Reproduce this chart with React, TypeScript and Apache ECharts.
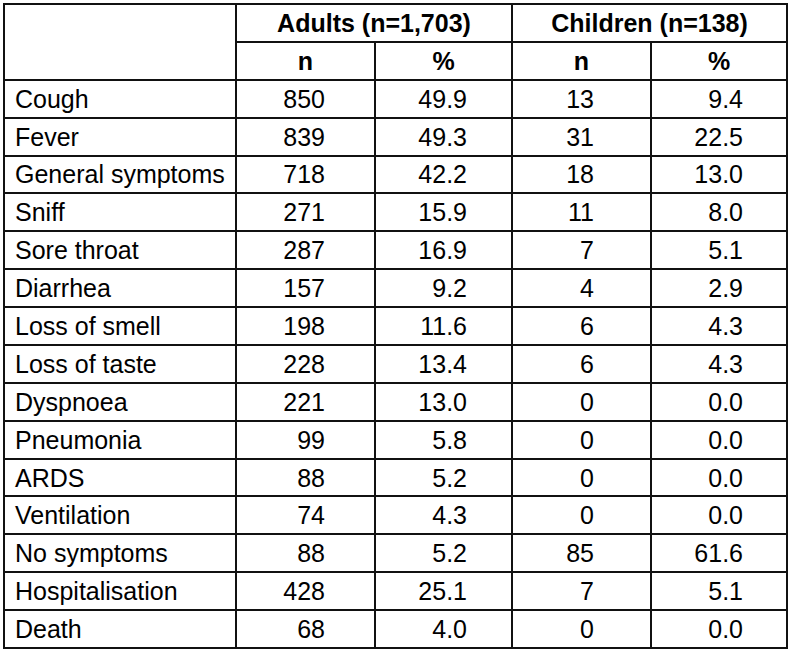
import React, { useEffect, useRef } from "react";
import * as echarts from "echarts";

// ---- data ----
const rowLabels = [
  "Cough", "Fever", "General symptoms", "Sniff", "Sore throat", "Diarrhea",
  "Loss of smell", "Loss of taste", "Dyspnoea", "Pneumonia", "ARDS",
  "Ventilation", "No symptoms", "Hospitalisation", "Death",
];
const adultsN = [850, 839, 718, 271, 287, 157, 198, 228, 221, 99, 88, 74, 88, 428, 68];
const adultsPct = [49.9, 49.3, 42.2, 15.9, 16.9, 9.2, 11.6, 13.4, 13.0, 5.8, 5.2, 4.3, 5.2, 25.1, 4.0];
const childrenN = [13, 31, 18, 11, 7, 4, 6, 6, 0, 0, 0, 0, 85, 7, 0];
const childrenPct = [9.4, 22.5, 13.0, 8.0, 5.1, 2.9, 4.3, 4.3, 0.0, 0.0, 0.0, 0.0, 61.6, 5.1, 0.0];
const groupHeaders = ["Adults (n=1,703)", "Children (n=138)"];
const subHeaders = ["n", "%", "n", "%"];

// ---- layout (axis units) ----
const X_MAX = 783;
const colEdges = [0, 232, 371, 508, 647, 783];
const labelX = 11;
const valueRight = [321, 463, 590, 739];
const HEADER_ROWS = 2;
const TOTAL_ROWS = rowLabels.length + HEADER_ROWS;
const TEXT_DY = 0;
const FONT_SIZE = 25;
const FONT = "'Liberation Sans', Arial, sans-serif";
const LINE_COLOR = "#111111";

type Cell = { x: number; y: number; text: string; align: string; bold: boolean };

function buildCells(): Cell[] {
  const cells: Cell[] = [];
  groupHeaders.forEach((t, i) => {
    cells.push({ x: (colEdges[1 + i * 2] + colEdges[3 + i * 2]) / 2, y: 0.5, text: t, align: "center", bold: true });
  });
  subHeaders.forEach((t, i) => {
    cells.push({ x: (colEdges[1 + i] + colEdges[2 + i]) / 2, y: 1.5, text: t, align: "center", bold: true });
  });
  rowLabels.forEach((label, r) => {
    const y = HEADER_ROWS + r + 0.5;
    cells.push({ x: labelX, y, text: label, align: "left", bold: false });
    const vals = [
      String(adultsN[r]),
      adultsPct[r].toFixed(1),
      String(childrenN[r]),
      childrenPct[r].toFixed(1),
    ];
    vals.forEach((v, c) => cells.push({ x: valueRight[c], y, text: v, align: "right", bold: false }));
  });
  return cells;
}

function buildLines(): number[][] {
  const lines: number[][] = [];
  lines.push([0, 0, X_MAX, 0]);
  lines.push([colEdges[1], 1, X_MAX, 1]);
  for (let k = 2; k <= TOTAL_ROWS; k++) lines.push([0, k, X_MAX, k]);
  lines.push([colEdges[0], 0, colEdges[0], TOTAL_ROWS]);
  lines.push([colEdges[1], 0, colEdges[1], TOTAL_ROWS]);
  lines.push([colEdges[2], 1, colEdges[2], TOTAL_ROWS]);
  lines.push([colEdges[3], 0, colEdges[3], TOTAL_ROWS]);
  lines.push([colEdges[4], 1, colEdges[4], TOTAL_ROWS]);
  lines.push([colEdges[5], 0, colEdges[5], TOTAL_ROWS]);
  return lines;
}

export default function App() {
  const ref = useRef<HTMLDivElement>(null);
  useEffect(() => {
    if (!ref.current) return;
    const chart = echarts.init(ref.current, null, { renderer: "svg" });
    const cells = buildCells();
    const lines = buildLines();
    chart.setOption({
      animation: false,
      backgroundColor: "#ffffff",
      grid: { left: 4, top: 4, right: 4, bottom: 6 },
      xAxis: { type: "value", min: 0, max: X_MAX, show: false },
      yAxis: { type: "value", min: 0, max: TOTAL_ROWS, inverse: true, show: false },
      series: [
        {
          type: "custom",
          clip: false,
          data: lines,
          renderItem: (params: any, api: any) => {
            const p1 = api.coord([api.value(0), api.value(1)]);
            const p2 = api.coord([api.value(2), api.value(3)]);
            return {
              type: "line",
              shape: { x1: Math.round(p1[0]), y1: Math.round(p1[1]), x2: Math.round(p2[0]), y2: Math.round(p2[1]) },
              style: { stroke: LINE_COLOR, lineWidth: 2, lineCap: "square" },
            };
          },
        },
        {
          type: "custom",
          clip: false,
          data: cells.map((c) => [c.x, c.y]),
          renderItem: (params: any, api: any) => {
            const c = cells[params.dataIndex];
            const p = api.coord([api.value(0), api.value(1)]);
            return {
              type: "text",
              x: p[0],
              y: p[1] + TEXT_DY,
              style: {
                text: c.text,
                fill: "#000000",
                fontSize: FONT_SIZE,
                fontFamily: FONT,
                fontWeight: c.bold ? "bold" : "normal",
                align: c.align,
                verticalAlign: "middle",
              },
            };
          },
        },
      ],
    });
    return () => chart.dispose();
  }, []);
  return (
    <div
      ref={ref}
      style={{ position: "fixed", left: 0, top: 0, width: 791, height: 654, background: "#fff" }}
    />
  );
}
